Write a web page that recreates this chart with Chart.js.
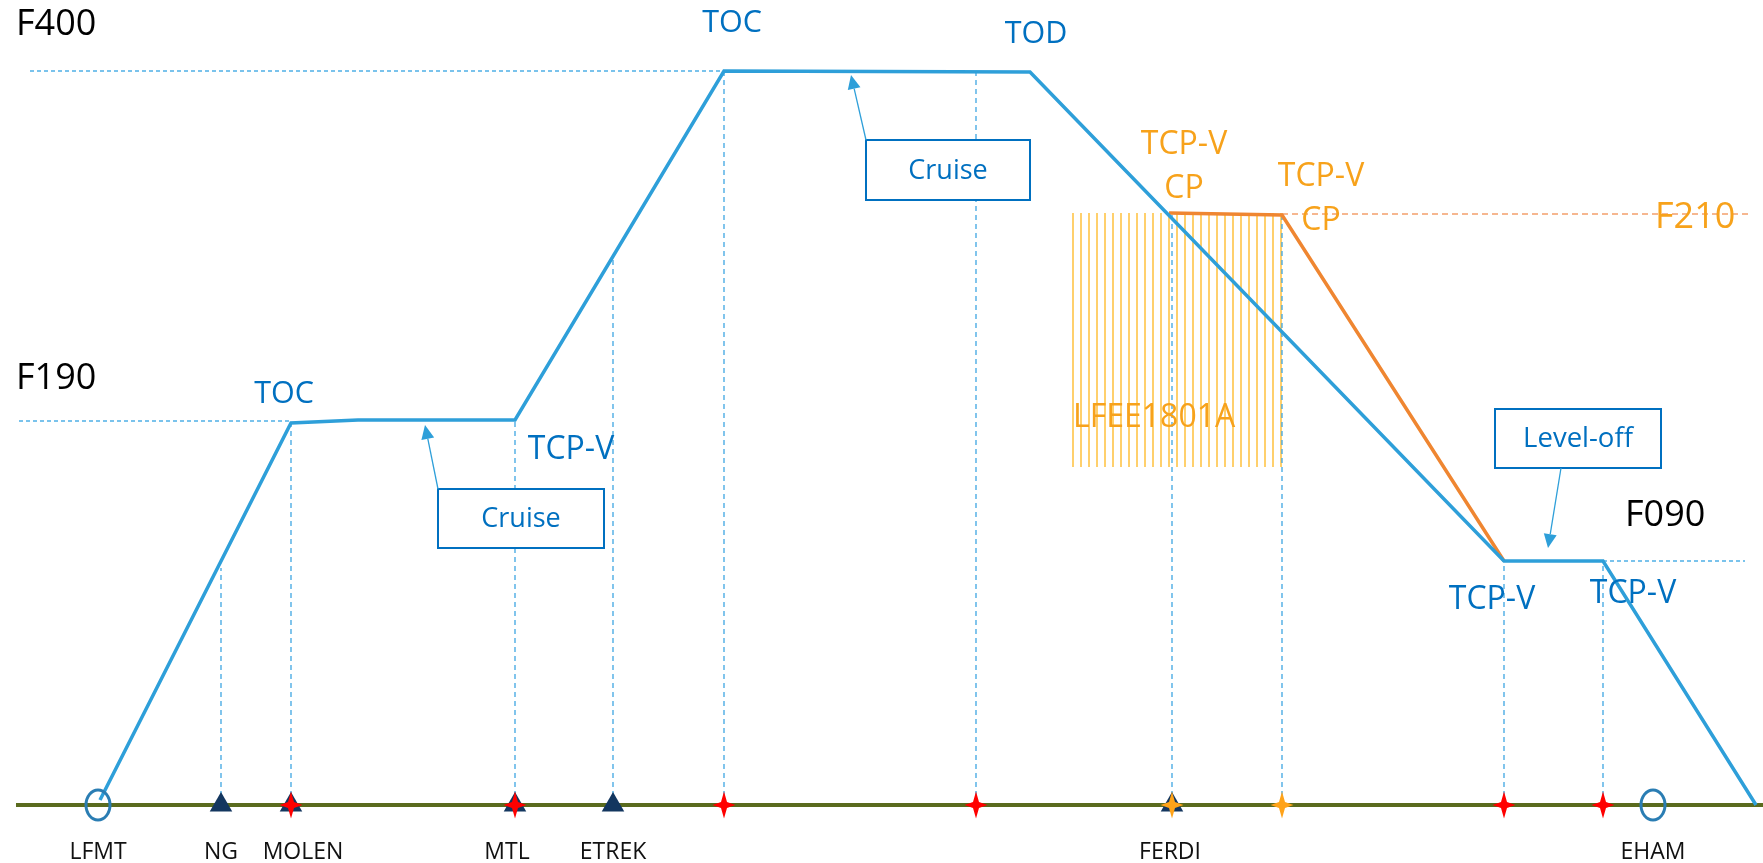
<!DOCTYPE html>
<html>
<head>
<meta charset="utf-8">
<script src="https://cdn.jsdelivr.net/npm/chart.js@4.4.1/dist/chart.umd.min.js"></script>
<style>
html, body { margin: 0; padding: 0; background: #fff; overflow: hidden; }
canvas { display: block; }
</style>
</head>
<body>
<canvas id="profileChart" width="1763" height="863"></canvas>
<script>
// x = distance along the route, y = schematic height above ground (ground = 0)
const profileX = [100, 291, 358, 515, 724, 1030, 1504, 1603, 1756];
const profileY = [5, 382, 385, 385, 734, 733, 244, 244, 0];

// constrained descent (orange)
const constraintX = [1169, 1282, 1504];
const constraintY = [592, 590, 244];

// flight levels and the stretch their dashed reference line covers
const levelNames = ['F400', 'F190', 'F090', 'F210'];
const levelValues = [734, 384, 244, 591];
const levelFrom = [30, 19, 1603, 1282];
const levelTo = [724, 291, 1745, 1750];

// waypoints on the ground track
const waypointNames = ['LFMT', 'NG', 'MOLEN', 'MTL', 'ETREK', 'FERDI', 'EHAM'];
const waypointX = [98, 221, 291, 515, 613, 1172, 1653];
const waypointKind = ['airport', 'fix', 'fix', 'fix', 'fix', 'fix', 'airport'];

// trajectory change points projected on the ground
const tcpX = [291, 515, 724, 976, 1504, 1603];
const constraintTcpX = [1172, 1282];

// vertical projections
const guideX = [221, 291, 515, 613, 724, 976, 1172, 1282, 1504, 1603];
const guideTop = [237, 382, 385, 549, 734, 734, 592, 590, 244, 244];

// sector LFEE1801A
const sectorName = 'LFEE1801A';
const sectorX = [1073, 1281];
const sectorY = [338, 592];

// point labels
const blueLabels = [
  ['TOC', 732, 781.5], ['TOD', 1036, 770.5], ['TOC', 284, 410.5], ['TCP-V', 571, 355],
  ['TCP-V', 1492, 205], ['TCP-V', 1633, 211]
];
const orangeLabels = [
  ['TCP-V', 1184, 660], ['CP', 1184, 616], ['TCP-V', 1321, 628], ['CP', 1321, 584]
];
const levelLabelPos = [[16, 780.5], [16, 426], [1625, 289.5], [1655, 587]];

// callout boxes: text, left, top, right, bottom, arrow from, arrow tip, font size
const callouts = [
  ['Cruise', 438, 316, 604, 257, [438, 316], [425, 380], 27],
  ['Cruise', 866, 665, 1030, 605, [866, 665], [851, 730], 27],
  ['Level-off', 1495, 396, 1661, 337, [1561, 337], [1548, 257], 27.5]
];

const BLUE = '#2e9fd9';
const TEXT_BLUE = '#0070c0';
const ORANGE = '#ef8631';
const TEXT_ORANGE = '#f7a21b';
const FONT = '"Open Sans", "DejaVu Sans", sans-serif';

const zip = (xs, ys) => xs.map((v, i) => ({ x: v, y: ys[i] }));

// dashed segments joined in one dataset, separated by gaps
const guidePoints = [];
guideX.forEach((gx, i) => {
  guidePoints.push({ x: gx, y: 0 }, { x: gx, y: guideTop[i] }, { x: gx, y: null });
});
const blueLevelPoints = [];
const orangeLevelPoints = [];
levelNames.forEach((n, i) => {
  const target = n === 'F210' ? orangeLevelPoints : blueLevelPoints;
  target.push({ x: levelFrom[i], y: levelValues[i] }, { x: levelTo[i], y: levelValues[i] }, { x: levelTo[i], y: null });
});

const star = (ctx, px, py, color) => {
  ctx.beginPath();
  ctx.moveTo(px, py - 13.5);
  ctx.lineTo(px + 3, py - 3);
  ctx.lineTo(px + 11.5, py);
  ctx.lineTo(px + 3, py + 3);
  ctx.lineTo(px, py + 13.5);
  ctx.lineTo(px - 3, py + 3);
  ctx.lineTo(px - 11.5, py);
  ctx.lineTo(px - 3, py - 3);
  ctx.closePath();
  ctx.fillStyle = color;
  ctx.fill();
};

const text = (ctx, str, px, py, color, size, align) => {
  ctx.font = size + 'px ' + FONT;
  ctx.fillStyle = color;
  ctx.textAlign = align || 'center';
  ctx.textBaseline = 'middle';
  ctx.fillText(str, px, py);
};

const diagramPlugin = {
  id: 'diagram',
  beforeDatasetsDraw(chart) {
    const { ctx, scales: { x, y } } = chart;
    ctx.save();
    ctx.strokeStyle = '#ffc853';
    ctx.lineWidth = 1.7;
    for (let v = sectorX[0]; v <= sectorX[1] + 0.5; v += 8) {
      ctx.beginPath();
      ctx.moveTo(x.getPixelForValue(v), y.getPixelForValue(sectorY[0]));
      ctx.lineTo(x.getPixelForValue(v), y.getPixelForValue(sectorY[1]));
      ctx.stroke();
    }
    ctx.restore();
  },
  afterDatasetsDraw(chart) {
    const { ctx, scales: { x, y } } = chart;
    const gy = y.getPixelForValue(0);
    ctx.save();

    // airports
    waypointX.forEach((wx, i) => {
      if (waypointKind[i] !== 'airport') return;
      ctx.beginPath();
      ctx.ellipse(x.getPixelForValue(wx), gy, 12, 15, 0, 0, Math.PI * 2);
      ctx.strokeStyle = '#2a7db3';
      ctx.lineWidth = 3;
      ctx.stroke();
    });
    tcpX.forEach(v => star(ctx, x.getPixelForValue(v), gy, '#ff0000'));
    constraintTcpX.forEach(v => star(ctx, x.getPixelForValue(v), gy, '#ffa319'));

    // waypoint names
    const nameShift = { MOLEN: 12, MTL: -8, FERDI: -2 };
    waypointNames.forEach((n, i) => {
      text(ctx, n, x.getPixelForValue(waypointX[i] + (nameShift[n] || 0)), y.getPixelForValue(-47), '#111', 23);
    });

    // level names
    levelNames.forEach((n, i) => {
      const col = n === 'F210' ? TEXT_ORANGE : '#000';
      text(ctx, n, x.getPixelForValue(levelLabelPos[i][0]), y.getPixelForValue(levelLabelPos[i][1]), col, 36, 'left');
    });

    blueLabels.forEach(l => text(ctx, l[0], x.getPixelForValue(l[1]), y.getPixelForValue(l[2]), TEXT_BLUE, l[0] === 'TCP-V' ? 32 : 30.5));
    orangeLabels.forEach(l => text(ctx, l[0], x.getPixelForValue(l[1]), y.getPixelForValue(l[2]), TEXT_ORANGE, 32));
    text(ctx, sectorName, x.getPixelForValue(sectorX[0]), y.getPixelForValue(387), TEXT_ORANGE, 32, 'left');

    // callouts
    callouts.forEach(c => {
      const l = x.getPixelForValue(c[1]), t = y.getPixelForValue(c[2]);
      const r = x.getPixelForValue(c[3]), b = y.getPixelForValue(c[4]);
      ctx.fillStyle = '#fff';
      ctx.fillRect(l, t, r - l, b - t);
      ctx.strokeStyle = TEXT_BLUE;
      ctx.lineWidth = 2;
      ctx.strokeRect(l, t, r - l, b - t);
      text(ctx, c[0], (l + r) / 2, (t + b) / 2 + 1, TEXT_BLUE, c[7]);

      const fx = x.getPixelForValue(c[5][0]), fy = y.getPixelForValue(c[5][1]);
      const tx = x.getPixelForValue(c[6][0]), ty = y.getPixelForValue(c[6][1]);
      const ang = Math.atan2(ty - fy, tx - fx);
      const head = 14, half = 6.5;
      const bx = tx - Math.cos(ang) * head, by = ty - Math.sin(ang) * head;
      ctx.strokeStyle = BLUE;
      ctx.lineWidth = 1.3;
      ctx.beginPath();
      ctx.moveTo(fx, fy);
      ctx.lineTo(bx, by);
      ctx.stroke();
      ctx.fillStyle = BLUE;
      ctx.beginPath();
      ctx.moveTo(tx, ty);
      ctx.lineTo(bx + Math.sin(ang) * half, by - Math.cos(ang) * half);
      ctx.lineTo(bx - Math.sin(ang) * half, by + Math.cos(ang) * half);
      ctx.closePath();
      ctx.fill();
    });
    ctx.restore();
  }
};

new Chart(document.getElementById('profileChart'), {
  type: 'line',
  data: {
    datasets: [
      {
        label: 'guides',
        data: guidePoints,
        borderColor: '#3ea6e2',
        borderWidth: 1.3,
        borderDash: [5, 4],
        pointRadius: 0,
        spanGaps: false,
        order: 6
      },
      {
        label: 'levels',
        data: blueLevelPoints,
        borderColor: '#4fb0e6',
        borderWidth: 1.3,
        borderDash: [4, 3],
        pointRadius: 0,
        spanGaps: false,
        order: 6
      },
      {
        label: 'F210',
        data: orangeLevelPoints,
        borderColor: '#f3a06c',
        borderWidth: 1.3,
        borderDash: [6, 4],
        pointRadius: 0,
        spanGaps: false,
        order: 6
      },
      {
        label: 'ground',
        data: [{ x: 16, y: 0 }, { x: 1763, y: 0 }],
        borderColor: '#5a6b1e',
        borderWidth: 4,
        pointRadius: 0,
        order: 5
      },
      {
        label: 'fixes',
        type: 'scatter',
        data: waypointX.filter((v, i) => waypointKind[i] === 'fix').map(v => ({ x: v, y: 0 })),
        pointStyle: 'triangle',
        pointRadius: 13,
        backgroundColor: '#13365f',
        borderWidth: 0,
        order: 4
      },
      {
        label: 'constraint',
        data: zip(constraintX, constraintY),
        borderColor: ORANGE,
        borderWidth: 3.5,
        pointRadius: 0,
        order: 3
      },
      {
        label: 'profile',
        data: zip(profileX, profileY),
        borderColor: BLUE,
        borderWidth: 3.5,
        pointRadius: 0,
        order: 2
      }
    ]
  },
  options: {
    responsive: false,
    animation: false,
    events: [],
    layout: { padding: 0, autoPadding: false },
    plugins: { legend: { display: false }, tooltip: { enabled: false } },
    scales: {
      x: { type: 'linear', min: 0, max: 1763, display: false },
      y: { type: 'linear', min: -58, max: 805, display: false }
    }
  },
  plugins: [diagramPlugin]
});
</script>
</body>
</html>
